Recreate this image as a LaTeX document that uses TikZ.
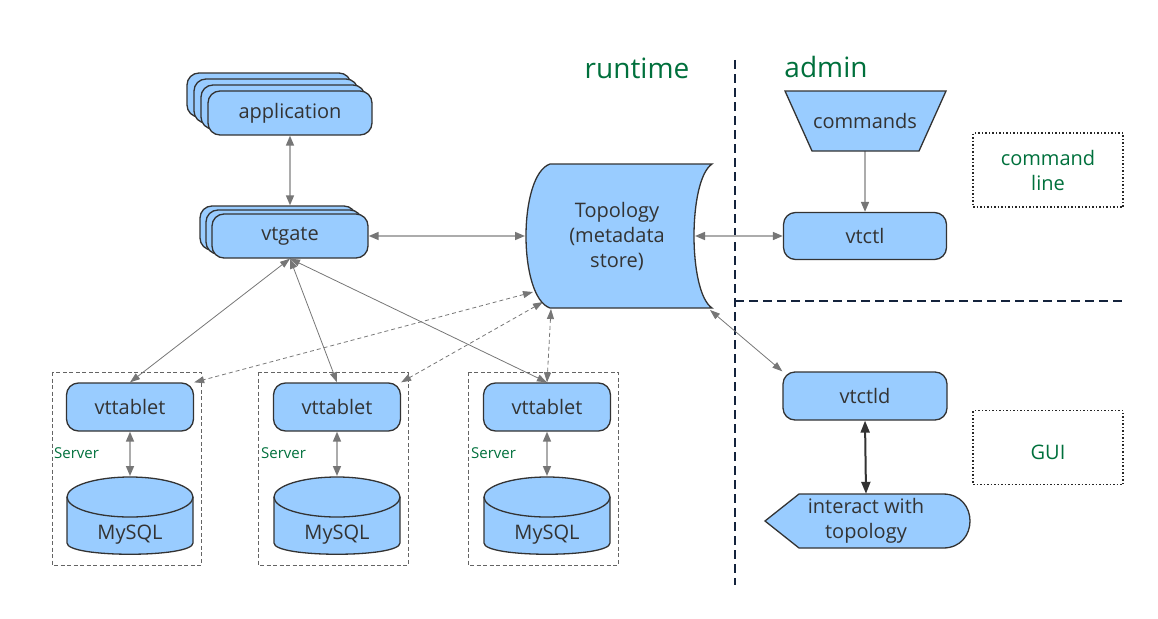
\documentclass[tikz,border=0pt]{standalone}
\usepackage{fontspec}
\setmainfont{Open Sans}
\usepackage{tikz}
\definecolor{boxblue}{RGB}{153,204,255}
\definecolor{edge}{RGB}{51,51,51}
\definecolor{darkgreen}{RGB}{0,112,60}
\definecolor{arrowgray}{RGB}{118,118,118}
\definecolor{linegray}{RGB}{172,172,172}
\definecolor{hostgray}{RGB}{100,100,100}
\definecolor{navy}{RGB}{20,35,60}
\usetikzlibrary{arrows.meta}
\pgfdeclarelayer{edgelayer}
\pgfdeclarelayer{nodelayer}
\pgfsetlayers{edgelayer,nodelayer,main}
\tikzstyle{box}=[rectangle,rounded corners=12pt,fill=boxblue,draw=edge,line width=1.3pt,text=edge,align=center,minimum height=44pt,font=\fontsize{20}{25}\selectfont]
\tikzstyle{plain}=[text=edge,align=center,inner sep=0pt,font=\fontsize{20}{25}\selectfont]
\tikzstyle{outline}=[fill=boxblue,draw=edge,line width=1.3pt]
\tikzstyle{heading}=[text=darkgreen,font=\fontsize{28}{34}\selectfont]
\tikzstyle{server}=[text=darkgreen,anchor=west,inner sep=0pt,font=\fontsize{15}{18}\selectfont]
\tikzstyle{dotbox}=[draw=black!85,line width=1.5pt,dash pattern=on 1.5pt off 2pt,text=darkgreen,align=center,minimum width=150pt,minimum height=74pt,font=\fontsize{20}{25}\selectfont]
\tikzstyle{hostbox}=[draw=hostgray,line width=1pt,dash pattern=on 4pt off 2.5pt]
\tikzstyle{divider}=[draw=navy,line width=1.6pt,dash pattern=on 9pt off 5pt]
\tikzstyle{thicklink}=[draw=linegray,line width=1.6pt,>={Triangle[length=10pt,width=8pt,color=arrowgray]}]
\tikzstyle{thinlink}=[draw=arrowgray,line width=0.8pt,>={Triangle[length=10pt,width=7pt]}]
\tikzstyle{dashlink}=[draw=arrowgray,line width=0.8pt,dash pattern=on 4pt off 3pt,>={Triangle[length=10pt,width=7pt]}]
\tikzstyle{boldlink}=[draw=edge,line width=2pt,>={Triangle[length=12pt,width=9pt]}]

\begin{document}
\begin{tikzpicture}[x=1pt,y=-1pt]
        \useasboundingbox (0,0) rectangle (1158,618);
        \begin{pgfonlayer}{nodelayer}
            \node [style = heading] (runtime) at (637,68) {runtime};
            \node [style = heading] (admin) at (826,67) {admin};

            % clients and gateways
            \node [style = box, minimum width=164pt] (app4) at (269,95) {};
            \node [style = box, minimum width=164pt] (app3) at (276,101) {};
            \node [style = box, minimum width=164pt] (app2) at (283,107) {};
            \node [style = box, minimum width=164pt] (app) at (290,113) {application};
            \node [style = box, minimum width=156pt] (gate3) at (278,228) {};
            \node [style = box, minimum width=156pt] (gate2) at (284,232) {};
            \node [style = box, minimum width=156pt] (gate) at (290,236) {vtgate};

            % topology store
            \draw [style = outline] (550,164) -- (712,164) .. controls (688,180) and (688,292) .. (712,308) -- (550,308) .. controls (518,297) and (518,175) .. (550,164) -- cycle;
            \node [style = plain] (topo) at (617,236) {Topology\\(metadata\\store)};
            \coordinate (topoW) at (525,236);
            \coordinate (topoE) at (695,236);
            \coordinate (topoSE) at (710,310);
            \coordinate (topoA) at (533,292);
            \coordinate (topoB) at (543,302);
            \coordinate (topoC) at (551,309);

            % servers
            \node [style = box, minimum width=127pt, minimum height=48pt] (tab1) at (130,407) {vttablet};
            \node [style = box, minimum width=127pt, minimum height=48pt] (tab2) at (337,407) {vttablet};
            \node [style = box, minimum width=127pt, minimum height=48pt] (tab3) at (547,407) {vttablet};
            \draw [style = outline] (67,497) -- (67,543) .. controls (67,558) and (193,558) .. (193,543) -- (193,497);
            \draw [style = outline] (130,497) ellipse [x radius=63, y radius=20];
            \draw [style = outline] (274,497) -- (274,543) .. controls (274,558) and (400,558) .. (400,543) -- (400,497);
            \draw [style = outline] (337,497) ellipse [x radius=63, y radius=20];
            \draw [style = outline] (484,497) -- (484,543) .. controls (484,558) and (610,558) .. (610,543) -- (610,497);
            \draw [style = outline] (547,497) ellipse [x radius=63, y radius=20];
            \node [style = plain] (db1) at (130,535) {MySQL};
            \node [style = plain] (db2) at (337,535) {MySQL};
            \node [style = plain] (db3) at (547,535) {MySQL};
            \coordinate (db1top) at (130,476);
            \coordinate (db2top) at (337,476);
            \coordinate (db3top) at (547,476);
            \node [style = server] (srv1) at (54,453) {Server};
            \node [style = server] (srv2) at (261,453) {Server};
            \node [style = server] (srv3) at (471,453) {Server};

            % admin side
            \draw [style = outline] (785,91) -- (946,91) -- (919,151) -- (812,151) -- cycle;
            \node [style = plain, minimum height=60pt] (cmds) at (865,121) {commands};
            \node [style = box, minimum width=163pt, minimum height=47pt] (ctl) at (865,236) {vtctl};
            \node [style = box, minimum width=164pt, minimum height=48pt] (ctld) at (865,396) {vtctld};
            \draw [style = outline] (799,494) -- (943,494) .. controls (979,494) and (979,548) .. (943,548) -- (799,548) -- (765,521) -- cycle;
            \node [style = plain, minimum height=54pt] (topoview) at (866,521) {interact with\\topology};
            \node [style = dotbox] (cli) at (1048,170) {command\\line};
            \node [style = dotbox, text height=24pt] (gui) at (1048,447.5) {GUI};
        \end{pgfonlayer}

        \begin{pgfonlayer}{edgelayer}
            \draw [style = divider] (735,60) -- (735,585);
            \draw [style = divider] (735,301) -- (1125,301);
            \draw [style = hostbox] (52,372) rectangle (201,565);
            \draw [style = hostbox] (258,372) rectangle (408,565);
            \draw [style = hostbox] (468,372) rectangle (618,565);

            \draw [style = thicklink, <->] (app.south) to (app.south |- gate3.north);
            \draw [style = thicklink, <->] (gate.east) to (topoW);
            \draw [style = thinlink, <->] (gate.south) to (tab1.north);
            \draw [style = thinlink, <->] (gate.south) to (tab2.north);
            \draw [style = thinlink, <->] (gate.south) to (tab3.north);
            \draw [style = dashlink, <->] (topoA) to (tab1.north east);
            \draw [style = dashlink, <->] (topoB) to (tab2.north east);
            \draw [style = dashlink, <->] (topoC) to (tab3.north);
            \draw [style = thicklink, <->] (tab1.south) to (db1top);
            \draw [style = thicklink, <->] (tab2.south) to (db2top);
            \draw [style = thicklink, <->] (tab3.south) to (db3top);
            \draw [style = thicklink, <->] (topoE) to (ctl.west);
            \draw [style = thinlink, <->] (topoSE) to (ctld.north west);
            \draw [style = thicklink, ->] (cmds.south) to (ctl.north);
            \draw [style = boldlink, <->] (ctld.south) to (topoview.north);
        \end{pgfonlayer}
    \end{tikzpicture}
\end{document}
